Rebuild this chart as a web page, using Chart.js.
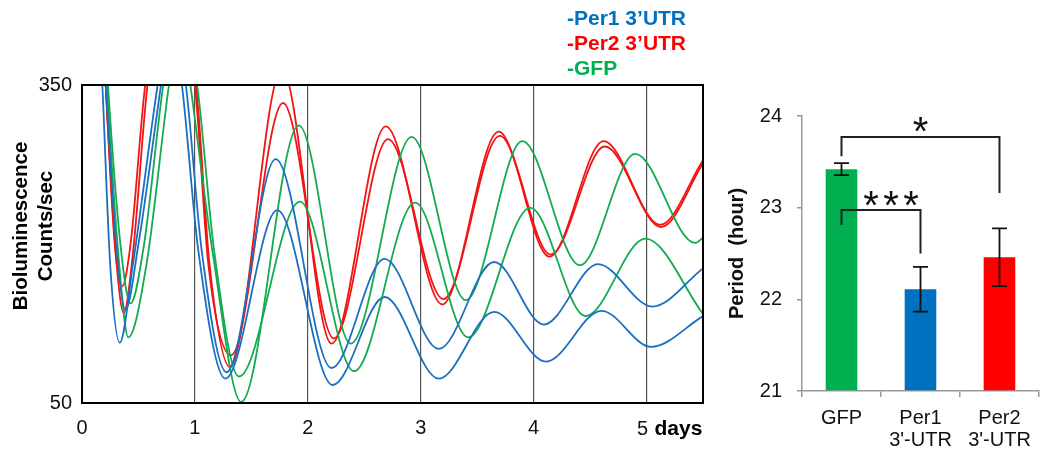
<!DOCTYPE html>
<html>
<head>
<meta charset="utf-8">
<script src="https://cdn.jsdelivr.net/npm/chart.js"></script>
<style>
  html, body { margin: 0; padding: 0; background: #fff; }
  #wrap { position: relative; width: 1041px; height: 456px; overflow: hidden; }
  canvas { position: absolute; top: 0; }
  #lum { left: 0; }
  #period { left: 720px; }
</style>
</head>
<body>
<div id="wrap">
  <canvas id="lum" width="720" height="456"></canvas>
  <canvas id="period" width="321" height="456"></canvas>
</div>
<script>
// bioluminescence traces (days, counts/sec), two dishes per construct
const per1aDays   = [0.10, 0.21, 0.31, 0.385, 0.50, 0.70, 0.80, 0.92, 1.06, 1.28, 1.715, 2.21, 2.68, 3.16, 3.65, 4.09, 4.57, 5.05, 5.50];
const per1aCounts = [560, 350, 190, 138, 200, 350, 420, 350, 194, 79, 280, 83, 186, 101, 183, 124, 181, 141, 177];
const per1bDays   = [0.08, 0.18, 0.25, 0.335, 0.45, 0.67, 0.78, 0.885, 1.03, 1.27, 1.73, 2.22, 2.68, 3.16, 3.65, 4.11, 4.60, 5.04, 5.50];
const per1bCounts = [560, 350, 180, 107, 180, 350, 420, 350, 194, 73, 232, 67, 150, 73, 136, 89, 137, 103, 132];
const per2aDays   = [0.12, 0.21, 0.30, 0.37, 0.45, 0.58, 0.78, 1.01, 1.13, 1.31, 1.77, 2.21, 2.69, 3.19, 3.69, 4.14, 4.62, 5.12, 5.50];
const per2aCounts = [560, 350, 190, 135, 190, 350, 470, 350, 180, 84, 365, 106, 311, 143, 306, 188, 297, 218, 279];
const per2bDays   = [0.12, 0.21, 0.29, 0.355, 0.43, 0.56, 0.77, 1.00, 1.12, 1.32, 1.78, 2.23, 2.71, 3.20, 3.70, 4.15, 4.63, 5.13, 5.50];
const per2bCounts = [560, 350, 200, 160, 200, 350, 470, 350, 180, 95, 333, 111, 299, 148, 302, 190, 292, 216, 276];
const gfpaDays    = [0.12, 0.22, 0.33, 0.41, 0.57, 0.77, 0.87, 0.96, 1.16, 1.41, 1.92, 2.38, 2.92, 3.40, 3.90, 4.41, 4.90, 5.43, 5.50];
const gfpaCounts  = [560, 350, 180, 112, 180, 350, 420, 350, 190, 51, 312, 106, 301, 147, 297, 180, 285, 201, 206];
const gfpbDays    = [0.12, 0.23, 0.34, 0.43, 0.55, 0.72, 0.87, 1.02, 1.17, 1.39, 1.93, 2.41, 2.95, 3.42, 3.97, 4.46, 4.99, 5.50];
const gfpbCounts  = [560, 350, 200, 144, 200, 350, 430, 350, 194, 75, 240, 80, 239, 112, 234, 132, 205, 134];

const dayTicks = [0, 1, 2, 3, 4, 5];
const dayLabels = ['0', '1', '2', '3', '4', '5'];
const countTicks = [50, 350];
const legendLabels = ['-Per1 3’UTR', '-Per2 3’UTR', '-GFP'];

// period bar chart
const groups = ['GFP', ['Per1', "3'-UTR"], ['Per2', "3'-UTR"]];
const periods = [23.42, 22.11, 22.46];
const periodErr = [0.065, 0.245, 0.315];

const FONT = '"Liberation Sans", Arial, sans-serif';
const BLUE = '#0070C0', RED = '#FF0000', GREEN = '#00B050';
const LINE_BLUE = '#1c6fc0', LINE_RED = '#f21414', LINE_GREEN = '#14aa50';

Chart.defaults.font.family = FONT;
Chart.defaults.color = '#111';

function series(days, counts) {
  return days.map((d, i) => ({x: d, y: counts[i]}));
}

const traces = [
  {days: per1aDays, counts: per1aCounts, color: LINE_BLUE},
  {days: per1bDays, counts: per1bCounts, color: LINE_BLUE},
  {days: gfpaDays, counts: gfpaCounts, color: LINE_GREEN},
  {days: gfpbDays, counts: gfpbCounts, color: LINE_GREEN},
  {days: per2aDays, counts: per2aCounts, color: LINE_RED},
  {days: per2bDays, counts: per2bCounts, color: LINE_RED},
];

const lastDay = dayTicks[dayTicks.length - 1];

const lumDecor = {
  id: 'lumDecor',
  afterDatasetsDraw(chart) {
    const {ctx, chartArea: a, scales: {x}} = chart;
    ctx.save();
    ctx.strokeStyle = '#000';
    ctx.lineWidth = 2;
    ctx.strokeRect(a.left, a.top, a.right - a.left, a.bottom - a.top);

    // last tick reads "5 days", with "days" in bold
    const px = x.getPixelForValue(lastDay);
    ctx.fillStyle = '#111';
    ctx.textBaseline = 'alphabetic';
    ctx.textAlign = 'center';
    ctx.font = '20px ' + FONT;
    ctx.fillText(dayLabels[dayLabels.length - 1], px - 4, 435);
    ctx.fillStyle = '#000';
    ctx.font = 'bold 21px ' + FONT;
    ctx.textAlign = 'left';
    ctx.fillText('days', px + 8, 435);

    ctx.font = 'bold 20.5px ' + FONT;
    ctx.textAlign = 'center';
    ctx.textBaseline = 'middle';
    [['Bioluminescence', 21], ['Counts/sec', 46]].forEach(([t, cx]) => {
      ctx.save();
      ctx.translate(cx, 226);
      ctx.rotate(-Math.PI / 2);
      ctx.fillText(t, 0, 0);
      ctx.restore();
    });

    ctx.font = 'bold 21px ' + FONT;
    ctx.textAlign = 'left';
    ctx.textBaseline = 'alphabetic';
    [BLUE, RED, GREEN].forEach((c, i) => {
      ctx.fillStyle = c;
      ctx.fillText(legendLabels[i], 567, 25 + i * 25);
    });
    ctx.restore();
  }
};

new Chart(document.getElementById('lum'), {
  type: 'line',
  data: {
    datasets: traces.map(t => ({
      data: series(t.days, t.counts),
      borderColor: t.color,
      borderWidth: 1.8,
      pointRadius: 0,
      fill: false,
      cubicInterpolationMode: 'monotone',
    }))
  },
  options: {
    responsive: false,
    animation: false,
    devicePixelRatio: 1,
    layout: {padding: {top: 85, right: 17, left: 0, bottom: 0}},
    plugins: {legend: {display: false}, tooltip: {enabled: false}},
    scales: {
      x: {
        type: 'linear', min: 0, max: 5.5,
        afterBuildTicks: s => { s.ticks = dayTicks.map(v => ({value: v})); },
        afterFit: s => { s.height = 53; },
        ticks: {
          padding: 13, color: '#111', font: {size: 20}, maxRotation: 0, autoSkip: false,
          callback: (v, i) => (v === lastDay ? '' : dayLabels[i])
        },
        grid: {
          drawTicks: false,
          color: c => (c.tick && c.tick.value === 0) ? 'rgba(0,0,0,0)' : '#555',
          lineWidth: 1.2
        },
        border: {display: false}
      },
      y: {
        min: 50, max: 350,
        afterBuildTicks: s => { s.ticks = countTicks.map(v => ({value: v})); },
        afterFit: s => { s.width = 82; },
        ticks: {padding: 10, color: '#111', font: {size: 20}},
        grid: {display: false, drawTicks: false},
        border: {display: false}
      }
    }
  },
  plugins: [lumDecor]
});

// significance brackets, in bar index / hour units
const brackets = [
  {from: 0, to: 2, y: 23.77, fromEnd: 23.56, toEnd: 23.16, stars: 1, starY: 23.935, dx: 0},
  {from: 0, to: 1, y: 22.975, fromEnd: 22.81, toEnd: 22.5, stars: 3, starY: 23.128, dx: 10},
];

const barDecor = {
  id: 'barDecor',
  afterDatasetsDraw(chart) {
    const {ctx, scales: {y}} = chart;
    const bars = chart.getDatasetMeta(0).data;
    ctx.save();
    ctx.strokeStyle = '#111';
    ctx.lineWidth = 1.8;
    bars.forEach((bar, i) => {
      const top = y.getPixelForValue(periods[i] + periodErr[i]);
      const bot = y.getPixelForValue(periods[i] - periodErr[i]);
      ctx.beginPath();
      ctx.moveTo(bar.x, top); ctx.lineTo(bar.x, bot);
      ctx.moveTo(bar.x - 7.5, top); ctx.lineTo(bar.x + 7.5, top);
      ctx.moveTo(bar.x - 7.5, bot); ctx.lineTo(bar.x + 7.5, bot);
      ctx.stroke();
    });

    ctx.strokeStyle = '#222';
    ctx.lineWidth = 2;
    ctx.fillStyle = '#111';
    ctx.font = '40px ' + FONT;
    ctx.textAlign = 'center';
    ctx.textBaseline = 'alphabetic';
    brackets.forEach(b => {
      const x1 = bars[b.from].x, x2 = bars[b.to].x, yb = y.getPixelForValue(b.y);
      ctx.beginPath();
      ctx.moveTo(x1, y.getPixelForValue(b.fromEnd));
      ctx.lineTo(x1, yb);
      ctx.lineTo(x2, yb);
      ctx.lineTo(x2, y.getPixelForValue(b.toEnd));
      ctx.stroke();
      const cx = (x1 + x2) / 2 + b.dx, cy = y.getPixelForValue(b.starY);
      for (let k = 0; k < b.stars; k++) {
        ctx.fillText('*', cx + (k - (b.stars - 1) / 2) * 20, cy + 23);
      }
    });
    ctx.restore();
  }
};

new Chart(document.getElementById('period'), {
  type: 'bar',
  data: {
    labels: groups,
    datasets: [{
      data: periods,
      backgroundColor: [GREEN, BLUE, RED],
      base: 21,
      barPercentage: 0.4,
      categoryPercentage: 1.0,
      borderWidth: 0
    }]
  },
  options: {
    responsive: false,
    animation: false,
    devicePixelRatio: 1,
    layout: {padding: {top: 116, right: 1, left: 0, bottom: 0}},
    plugins: {legend: {display: false}, tooltip: {enabled: false}},
    scales: {
      x: {
        afterFit: s => { s.height = 65; },
        ticks: {padding: 10, color: '#111', font: {size: 20, lineHeight: 1.1}, maxRotation: 0, autoSkip: false},
        grid: {offset: true, drawOnChartArea: false, tickLength: 6, color: '#999', lineWidth: 1.5},
        border: {color: '#999', width: 1.5}
      },
      y: {
        min: 21, max: 24,
        afterFit: s => { s.width = 82; },
        ticks: {stepSize: 1, padding: 15, color: '#111', font: {size: 20}},
        grid: {drawOnChartArea: false, tickLength: 5, color: '#999', lineWidth: 1.5},
        border: {color: '#999', width: 1.5},
        title: {display: true, text: 'Period  (hour)', color: '#111', font: {size: 20, weight: 'bold'}, padding: {top: 5, bottom: 0}}
      }
    }
  },
  plugins: [barDecor]
});
</script>
</body>
</html>
